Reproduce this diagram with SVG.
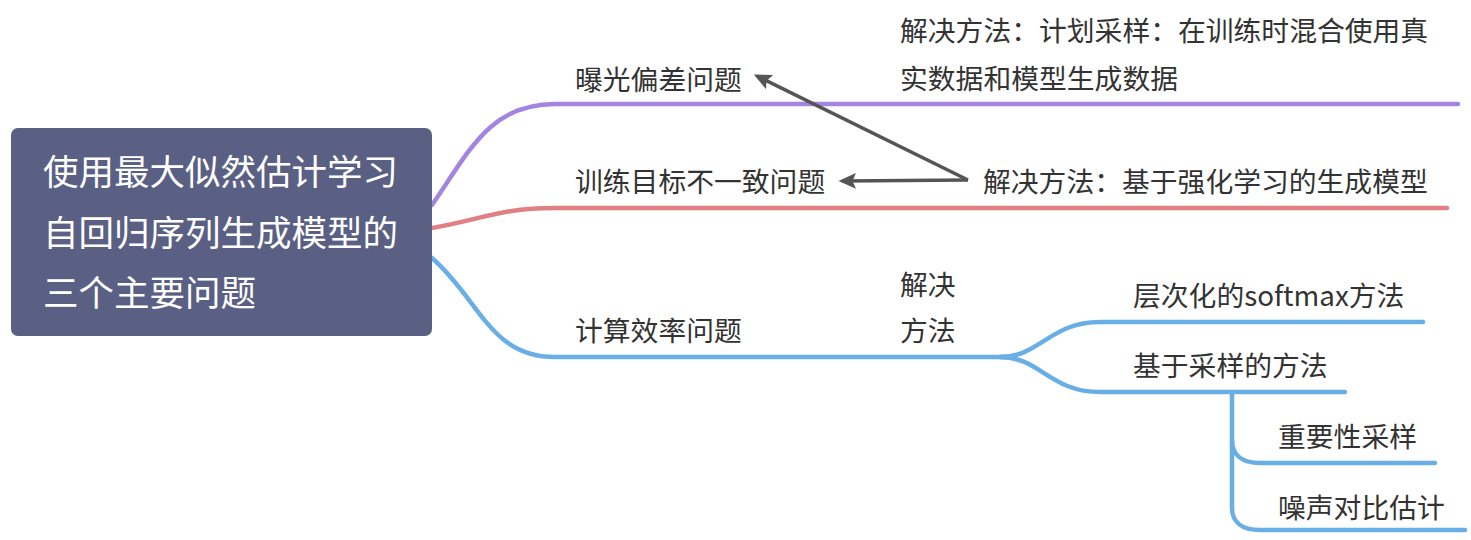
<svg xmlns="http://www.w3.org/2000/svg" width="1471" height="540" viewBox="0 0 1471 540">
<style>
text{font-family:"Noto Sans CJK SC","Liberation Sans",sans-serif;fill:#333;font-size:27.8px}
.root text{fill:#fff;font-size:35.5px}
.br{fill:none;stroke-width:4.5;stroke-linecap:round}
.p{stroke:#a385e0}.r{stroke:#e07f84}.b{stroke:#69afe5}
.rel{fill:none;stroke:#555;stroke-width:3.5}
</style>
<defs>
<marker id="ah" viewBox="0 0 10 10" refX="8" refY="5" markerWidth="5" markerHeight="5" orient="auto" markerUnits="strokeWidth">
<path d="M0,0.5 L10,5 L0,9.5 L2,5 Z" fill="#555"/>
</marker>
</defs>
<g id="connectors">
<path class="br p" d="M432,205 C470,150 490,104 555,104 L1458,104"/>
<path class="br r" d="M432,228 C480,220 500,208 555,208 L1447,208"/>
<path class="br b" d="M432,258 C480,300 490,357 555,357 L1010,357"/>
<path class="br b" d="M1000,357 C1040,357 1050,322 1100,322 L1423,322"/>
<path class="br b" d="M1000,357 C1040,357 1050,392 1100,392 L1345,392"/>
<path class="br b" d="M1232,392 L1232,440 C1232,455 1242,463 1260,463 L1435,463"/>
<path class="br b" d="M1232,440 L1232,508 C1232,522 1242,530 1260,530 L1465,530"/>
<path class="rel" d="M968,180 L757,76" marker-end="url(#ah)"/>
<path class="rel" d="M968,180 L842,181" marker-end="url(#ah)"/>
</g>
<g id="root" class="root">
<rect x="11" y="128" width="421" height="208" rx="7" fill="#5a6084"/>
<text x="43" y="185">使用最大似然估计学习</text>
<text x="43" y="246">自回归序列生成模型的</text>
<text x="43" y="306">三个主要问题</text>
</g>
<g id="n-exposure"><text x="575" y="90">曝光偏差问题</text></g>
<g id="n-exposure-sol"><text x="900" y="41">解决方法：计划采样：在训练时混合使用真</text><text x="900" y="89">实数据和模型生成数据</text></g>
<g id="n-objective"><text x="575" y="192">训练目标不一致问题</text></g>
<g id="n-objective-sol"><text x="983" y="192">解决方法：基于强化学习的生成模型</text></g>
<g id="n-efficiency"><text x="575" y="341">计算效率问题</text></g>
<g id="n-efficiency-sol"><text x="900" y="295">解决</text><text x="900" y="341">方法</text></g>
<g id="n-hsoftmax"><text x="1133" y="306">层次化的softmax方法</text></g>
<g id="n-sampling"><text x="1133" y="376">基于采样的方法</text></g>
<g id="n-importance"><text x="1278" y="447">重要性采样</text></g>
<g id="n-nce"><text x="1278" y="518">噪声对比估计</text></g>
</svg>
